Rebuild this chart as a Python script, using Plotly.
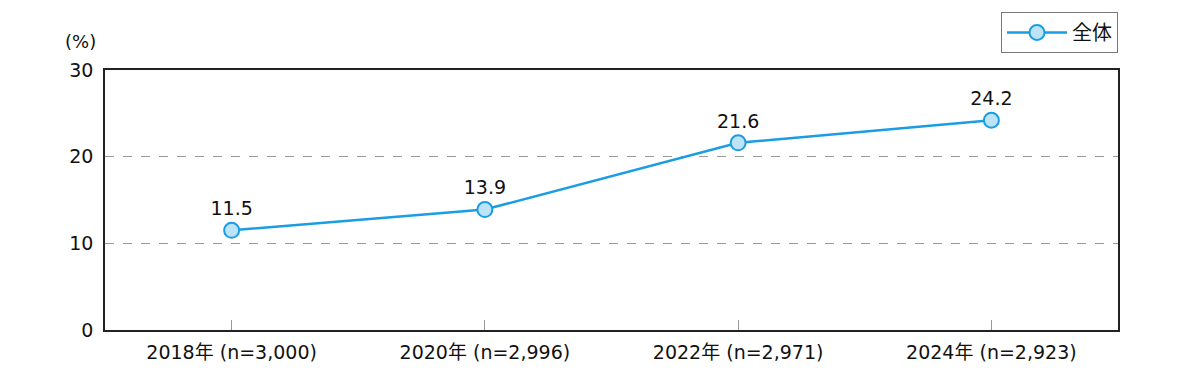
import plotly.graph_objects as go

categories = ["2018年 (n=3,000)", "2020年 (n=2,996)", "2022年 (n=2,971)", "2024年 (n=2,923)"]
values = [11.5, 13.9, 21.6, 24.2]
series_name = "全体"
y_ticks = [0, 10, 20, 30]

FONT = "DejaVu Sans, Noto Sans CJK JP"
LINE = "#1a9de2"
FILL = "#bde3f7"

fig = go.Figure()
fig.add_trace(go.Scatter(
    x=categories, y=values, name=series_name,
    mode="lines+markers+text",
    text=[f"{v:.1f}" for v in values],
    textposition="top center",
    textfont=dict(family=FONT, size=19, color="#111"),
    line=dict(color=LINE, width=2.5),
    marker=dict(size=15, color=FILL, line=dict(color=LINE, width=2)),
    cliponaxis=False,
))

fig.update_layout(
    width=1192, height=382,
    margin=dict(l=97, r=82, t=62, b=60, autoexpand=False),
    paper_bgcolor="white", plot_bgcolor="white",
    font=dict(family=FONT, size=19, color="#111"),
    showlegend=True,
    legend=dict(
        x=1, y=1.223, xanchor="right", yanchor="top",
        bordercolor="#777", borderwidth=1,
        font=dict(family=FONT, size=20),
        itemwidth=60,
    ),
    xaxis=dict(
        type="category", range=[-0.5, 3.5],
        showline=True, linecolor="#222", linewidth=1.5, mirror=True,
        ticks="inside", ticklen=10, tickcolor="#999", tickwidth=1,
        ticklabelstandoff=4,
        showgrid=False, tickfont=dict(family=FONT, size=19),
    ),
    yaxis=dict(
        range=[0, 30], tickvals=y_ticks,
        showline=True, linecolor="#222", linewidth=1.5, mirror=True,
        showgrid=True, gridcolor="#999", griddash="dash", gridwidth=1,
        zeroline=False, ticks="", ticklabelstandoff=6,
        tickfont=dict(family=FONT, size=19),
    ),
    annotations=[dict(
        text="(%)", xref="paper", yref="paper", x=-0.007, y=1.06,
        xanchor="right", yanchor="bottom", showarrow=False,
        font=dict(family=FONT, size=18),
    )],
)

fig.write_html("out.html")
